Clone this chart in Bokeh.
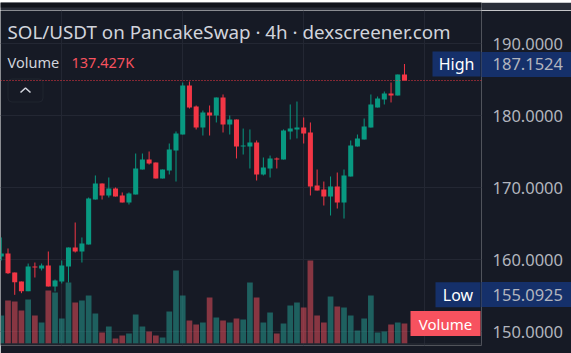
import numpy as np
from bokeh.plotting import figure
from bokeh.layouts import column
from bokeh.models import (Range1d, FixedTicker, Span, Label, BoxAnnotation,
                          ColumnDataSource, NumeralTickFormatter)
from bokeh.embed import file_html
from bokeh.resources import INLINE

# ---------------- data (4h candles, SOL/USDT) ----------------
opens = [160.42, 160.83, 158.19, 156.94, 155.60, 159.03, 158.75, 159.17, 156.25, 156.94,
         159.03, 161.67, 161.11, 162.08, 168.33, 170.56, 168.89, 169.86, 168.89, 167.92,
         169.03, 172.50, 173.89, 173.47, 171.25, 172.36, 175.14, 177.36, 184.17, 181.25,
         178.33, 180.42, 180.00, 182.50, 178.75, 179.44, 175.69, 175.69, 176.25, 171.81,
         172.64, 174.03, 173.89, 177.78, 178.06, 178.33, 177.64, 170.28, 169.72, 168.75,
         170.14, 167.92, 171.53, 175.69, 176.67, 178.33, 181.11, 182.22, 183.06, 182.78,
         185.69]
highs = [163.06, 161.53, 158.19, 156.94, 159.44, 159.58, 159.44, 161.11, 157.22, 159.86,
         161.67, 165.14, 163.06, 168.61, 171.67, 170.56, 171.39, 170.00, 169.31, 169.31,
         174.72, 174.72, 175.00, 173.47, 172.50, 176.11, 177.78, 184.58, 184.72, 181.39,
         180.69, 181.39, 182.50, 182.92, 180.00, 179.44, 178.19, 178.06, 176.53, 174.17,
         174.44, 174.17, 178.06, 181.53, 181.94, 179.72, 179.03, 172.50, 170.83, 171.53,
         172.08, 172.50, 176.53, 177.36, 179.58, 182.92, 182.64, 183.33, 184.58, 185.69,
         187.1524]
lows = [159.86, 158.00, 155.0925, 155.32, 155.60, 157.50, 158.47, 156.25, 155.56, 156.67,
        156.81, 160.97, 159.58, 162.08, 168.33, 168.33, 168.61, 168.75, 167.92, 167.64,
        169.03, 172.50, 173.19, 171.25, 171.25, 171.81, 170.83, 177.36, 180.97, 178.06,
        177.22, 177.22, 179.03, 177.64, 177.36, 174.03, 174.58, 172.64, 170.97, 171.67,
        171.39, 172.64, 173.89, 176.67, 176.81, 176.11, 168.89, 169.58, 167.50, 166.11,
        167.08, 165.69, 171.53, 175.69, 176.67, 178.33, 181.11, 181.53, 181.81, 182.78,
        184.86]
closes = [160.83, 158.10, 156.85, 155.60, 159.03, 158.89, 159.17, 156.25, 157.08, 159.17,
          161.67, 161.11, 162.22, 168.47, 170.56, 168.89, 169.86, 168.75, 167.92, 169.17,
          172.64, 173.89, 173.33, 171.25, 172.50, 175.28, 177.50, 184.17, 181.11, 178.33,
          180.42, 180.00, 182.50, 178.75, 179.44, 175.69, 175.83, 176.25, 171.81, 172.78,
          174.03, 173.89, 177.92, 178.19, 178.33, 177.50, 170.14, 169.58, 168.75, 170.14,
          167.92, 171.67, 175.83, 176.81, 178.47, 181.53, 182.36, 183.06, 182.78, 185.69,
          184.86]
volumes_k = [192, 295, 289, 227, 302, 192, 144, 364, 350, 172,
             419, 282, 295, 330, 206, 76, 117, 34, 55, 69,
             199, 117, 82, 55, 41, 220, 502, 330, 158, 131,
             144, 316, 179, 158, 144, 172, 165, 419, 316, 144,
             213, 69, 137, 261, 282, 247, 570, 192, 144, 323,
             254, 247, 192, 89, 172, 330, 76, 82, 131, 144,
             137.427]
price_ticks = [150, 160, 170, 180, 190]
day_ticks = [9, 27, 45, 63]          # candle index of the vertical grid lines
title_text = "SOL/USDT on PancakeSwap \u00b7 4h \u00b7 dexscreener.com"

# ---------------- layout helpers (page pixel -> data) ----------------
W, H = 571, 353
TOP_H = 10                            # height of the top strip figure
F_TOP, F_BOT, F_RIGHT = 10, 345, 481
AXIS_W = W - F_RIGHT
X0, DX = 0.78, 6.72                   # candle pixel pitch
PPU, Y180 = 7.2, 115.0                # pixels per price unit, pixel of 180
VOL_BASE, VPP = 343.0, 137.427 / 20   # volume baseline pixel, K per pixel


def px2x(px):
    return (px - X0) / DX


def py2p(py):
    return 180 - (py - Y180) / PPU


def py2v(py):
    return (VOL_BASE - py) * VPP


BG = "#161a25"
GRID = "#232733"
UP, DOWN = "#089981", "#f23645"
VUP, VDOWN = "#26a69a", "#f7525f"
TXT = "#d1d4dc"
AX = "#b2b5be"
NAVY = "#15306a"
FONT = "Noto Sans"

# ---------------- top strip ----------------
top = figure(width=W, height=TOP_H, output_backend="svg", toolbar_location=None,
             x_range=Range1d(0, W), y_range=Range1d(0, TOP_H),
             x_axis_location=None, y_axis_location=None,
             min_border=0, background_fill_color="#2a2e39", border_fill_color="#2a2e39",
             outline_line_color=None)
top.grid.visible = False
top.add_layout(BoxAnnotation(bottom=5, fill_color="#12151d", fill_alpha=1, line_color=None))

# ---------------- main chart ----------------
n = len(opens)
idx = np.arange(n)
o, h, l, c = map(np.array, (opens, highs, lows, closes))
up = c >= o
src = ColumnDataSource(dict(
    x=idx, low=l, high=h, top=np.maximum(o, c), bottom=np.minimum(o, c),
    color=[UP if u else DOWN for u in up],
    vcolor=[VUP if u else VDOWN for u in up],
    vol=volumes_k))

p = figure(width=W, height=H - TOP_H, output_backend="svg", toolbar_location=None,
           x_range=Range1d(px2x(0), px2x(F_RIGHT)),
           y_range=Range1d(py2p(F_BOT), py2p(F_TOP)),
           x_axis_location=None, y_axis_location="right",
           min_border_left=0, min_border_right=AXIS_W,
           min_border_top=0, min_border_bottom=H - F_BOT,
           background_fill_color=BG, border_fill_color=BG,
           outline_line_color=None)
p.extra_y_ranges = {"vol": Range1d(py2v(F_BOT), py2v(F_TOP))}

hi_val, lo_val = max(highs), min(lows)

# grid
p.ygrid.ticker = FixedTicker(ticks=price_ticks)
p.xgrid.ticker = FixedTicker(ticks=day_ticks)
for g in (p.xgrid, p.ygrid):
    g.grid_line_color = GRID
    g.grid_line_width = 1

# price axis: regular ticks + High/Low tags (minor ticks drawn as tag boxes)
ax = p.yaxis[0]
ax.ticker = FixedTicker(ticks=price_ticks + [hi_val, lo_val], minor_ticks=[hi_val, lo_val])
ax.formatter = NumeralTickFormatter(format="0.0000")
ax.axis_line_color = None
ax.major_tick_line_color = None
ax.major_tick_out = 0
ax.major_tick_in = 0
ax.minor_tick_in = 0
ax.minor_tick_out = AXIS_W
ax.minor_tick_line_width = 25
ax.minor_tick_line_color = NAVY
ax.minor_tick_line_cap = "butt"
ax.major_label_standoff = 11 - AXIS_W
ax.major_label_text_font = FONT
ax.major_label_text_font_size = "16.5px"
ax.major_label_text_color = AX

p.add_layout(Span(location=py2p(343.5), dimension="width", line_color="#2a2e39", line_width=1))

# volume
p.vbar(x="x", width=0.85, top="vol", bottom=0, fill_color="vcolor", fill_alpha=0.5,
       line_color=None, y_range_name="vol", source=src)

# candles
p.segment(x0="x", y0="low", x1="x", y1="high", line_color="color", line_width=1, source=src)
p.vbar(x="x", width=0.75, top="top", bottom="bottom", fill_color="color",
       line_color=None, source=src)

# last price dotted line
p.add_layout(Span(location=closes[-1], dimension="width", line_color=DOWN,
                  line_width=1, line_dash="1 2"))

# header texts
p.add_layout(Label(x=px2x(7), y=py2p(31), text=title_text, text_font=FONT,
                   text_font_size="18.8px", text_color=TXT, text_baseline="middle"))
p.add_layout(Label(x=px2x(7), y=py2p(61), text="Volume", text_font=FONT,
                   text_font_size="14.5px", text_color=TXT, text_baseline="middle"))
p.add_layout(Label(x=px2x(71), y=py2p(61), text=f"{volumes_k[-1]:.3f}K", text_font=FONT,
                   text_font_size="14.5px", text_color=VDOWN, text_baseline="middle"))

# collapse button
p.add_layout(BoxAnnotation(left=px2x(7.5), right=px2x(42.5), top=py2p(78.5), bottom=py2p(101.5),
                           fill_alpha=0, line_color="#363a45", line_width=1, border_radius=4))
p.line(x=[px2x(20), px2x(25), px2x(30)], y=[py2p(92), py2p(87.5), py2p(92)],
       line_color=TXT, line_width=1.6)


def tag_name(label, value, left_px):
    p.add_layout(BoxAnnotation(left=px2x(left_px), right=px2x(480),
                               top=value + 12.5 / PPU, bottom=value - 12.5 / PPU,
                               fill_color=NAVY, fill_alpha=1, line_color=None))
    p.add_layout(Label(x=px2x((left_px + 480) / 2), y=value, text=label, text_font=FONT,
                       text_font_size="16px", text_color="#ffffff", text_align="center",
                       text_baseline="middle"))


tag_name("High", hi_val, 432)
tag_name("Low", lo_val, 435)

# volume tag
v_last = volumes_k[-1]
vc = VOL_BASE - v_last / VPP
p.add_layout(BoxAnnotation(left=px2x(410), right=px2x(480), top=py2p(vc - 12.5), bottom=py2p(vc + 12.5),
                           fill_color=VDOWN, fill_alpha=1, line_color=None))
p.add_layout(Label(x=px2x(445), y=py2p(vc), text="Volume", text_font=FONT,
                   text_font_size="15px", text_color="#ffffff", text_align="center",
                   text_baseline="middle"))

layout = column(top, p, spacing=0)
open("out.html", "w").write(file_html(layout, INLINE))
